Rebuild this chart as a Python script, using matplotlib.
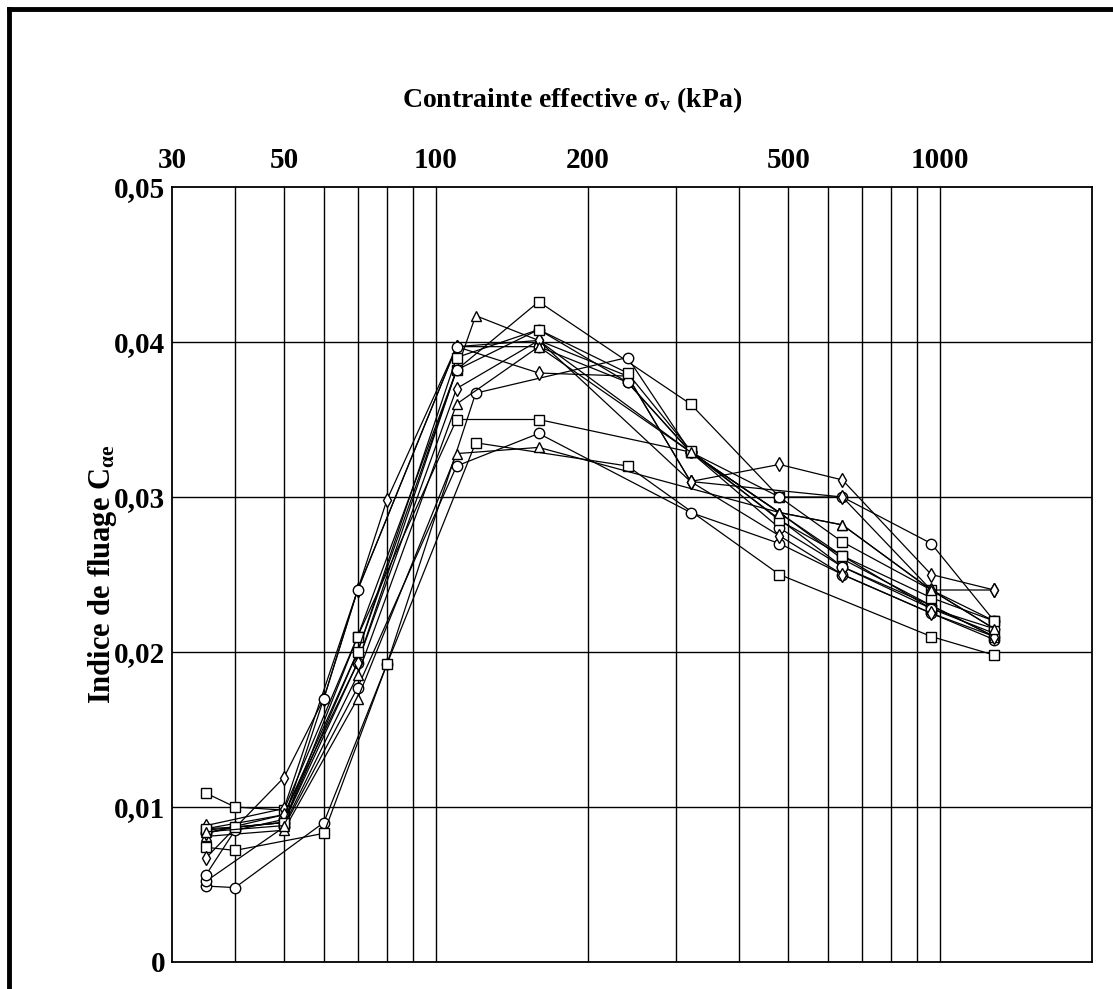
import matplotlib
matplotlib.use("Agg")
import matplotlib.pyplot as plt
from matplotlib.lines import Line2D
from matplotlib.ticker import FixedLocator, NullLocator

plt.rcParams["font.family"] = ["Liberation Serif", "DejaVu Serif"]
plt.rcParams["font.weight"] = "bold"
plt.rcParams["mathtext.fontset"] = "custom"
plt.rcParams["mathtext.rm"] = "Liberation Serif:bold"
plt.rcParams["mathtext.it"] = "Liberation Serif:bold"
plt.rcParams["mathtext.bf"] = "Liberation Serif:bold"

# stress (kPa) and creep index for each test
s1_x = [35, 40, 50, 70, 110, 160, 320, 480, 640, 960, 1280]
s1_y = [0.0109, 0.0100, 0.0098, 0.0210, 0.0382, 0.0426, 0.0360, 0.0300, 0.0271, 0.0240, 0.0220]
s2_x = [35, 40, 60, 80, 120, 240, 320, 480, 640, 960, 1280]
s2_y = [0.0049, 0.0048, 0.0090, 0.0192, 0.0367, 0.0390, 0.0329, 0.0300, 0.0300, 0.0270, 0.0220]
s3_x = [35, 40, 60, 80, 120, 240, 480, 960, 1280]
s3_y = [0.0074, 0.0072, 0.0083, 0.0192, 0.0335, 0.0320, 0.0250, 0.0210, 0.0198]
s4_x = [35, 50, 60, 70, 110, 160, 240, 320, 480, 640, 960, 1280]
s4_y = [0.0067, 0.0119, 0.0170, 0.0240, 0.0397, 0.0380, 0.0378, 0.0310, 0.0321, 0.0311, 0.0250, 0.0240]
s5_x = [35, 50, 70, 120, 160, 320, 480, 640, 960, 1280]
s5_y = [0.0086, 0.0095, 0.0200, 0.0417, 0.0401, 0.0329, 0.0290, 0.0282, 0.0240, 0.0215]
s6_x = [35, 40, 50, 70, 110, 160, 240, 320, 480, 640, 960, 1280]
s6_y = [0.0083, 0.0087, 0.0090, 0.0193, 0.0382, 0.0408, 0.0374, 0.0329, 0.0280, 0.0255, 0.0230, 0.0210]
s7_x = [35, 50, 70, 80, 110, 160, 240, 320, 640, 960, 1280]
s7_y = [0.0088, 0.0099, 0.0240, 0.0298, 0.0397, 0.0401, 0.0378, 0.0310, 0.0300, 0.0240, 0.0240]
s8_x = [35, 50, 70, 110, 160, 320, 480, 640, 960, 1280]
s8_y = [0.0052, 0.0087, 0.0177, 0.0320, 0.0341, 0.0290, 0.0270, 0.0250, 0.0225, 0.0208]
s9_x = [35, 50, 70, 110, 160, 480, 640, 960, 1280]
s9_y = [0.0081, 0.0085, 0.0170, 0.0328, 0.0332, 0.0290, 0.0260, 0.0230, 0.0210]
s10_x = [35, 50, 70, 110, 160, 320, 640, 960, 1280]
s10_y = [0.0085, 0.0090, 0.0210, 0.0350, 0.0350, 0.0329, 0.0262, 0.0228, 0.0212]
s11_x = [35, 40, 50, 60, 70, 110, 160, 240, 320, 640, 960, 1280]
s11_y = [0.0056, 0.0085, 0.0092, 0.0170, 0.0240, 0.0397, 0.0397, 0.0374, 0.0329, 0.0255, 0.0228, 0.0215]
s12_x = [35, 50, 70, 110, 160, 320, 480, 640, 960, 1280]
s12_y = [0.0083, 0.0095, 0.0193, 0.0370, 0.0401, 0.0310, 0.0275, 0.0250, 0.0225, 0.0210]
s13_x = [35, 40, 50, 70, 110, 160, 240, 320, 480, 640, 960, 1280]
s13_y = [0.0086, 0.0087, 0.0090, 0.0200, 0.0390, 0.0408, 0.0380, 0.0330, 0.0285, 0.0262, 0.0235, 0.0220]
s14_x = [35, 50, 70, 110, 160, 320, 480, 640, 960, 1280]
s14_y = [0.0084, 0.0088, 0.0185, 0.0360, 0.0397, 0.0329, 0.0290, 0.0282, 0.0240, 0.0215]

series = [
    (s1_x, s1_y, "s"), (s2_x, s2_y, "o"), (s3_x, s3_y, "s"), (s4_x, s4_y, "d"),
    (s5_x, s5_y, "^"), (s6_x, s6_y, "o"), (s7_x, s7_y, "d"), (s8_x, s8_y, "o"),
    (s9_x, s9_y, "^"), (s10_x, s10_y, "s"), (s11_x, s11_y, "o"), (s12_x, s12_y, "d"),
    (s13_x, s13_y, "s"), (s14_x, s14_y, "^"),
]

x_ticks = [30, 50, 100, 200, 500, 1000]
x_grid = [40, 50, 60, 70, 80, 90, 100, 200, 300, 400, 500, 600, 700, 800, 900, 1000]
y_ticks = [0, 0.01, 0.02, 0.03, 0.04, 0.05]
y_labels = ["0", "0,01", "0,02", "0,03", "0,04", "0,05"]

fig = plt.figure(figsize=(11.13, 9.89), dpi=100)
ax = fig.add_axes([172 / 1113, 1 - 962 / 989, 920 / 1113, 775 / 989])

for xs, ys, m in series:
    ax.plot(xs, ys, color="black", lw=0.9, marker=m, markersize=7.5,
            markerfacecolor="white", markeredgecolor="black", markeredgewidth=1.0)

ax.set_xscale("log")
ax.set_xlim(30, 2000)
ax.set_ylim(0, 0.05)

for gx in x_grid:
    ax.axvline(gx, color="black", lw=1.0, zorder=0)
for gy in y_ticks[1:-1]:
    ax.axhline(gy, color="black", lw=1.0, zorder=0)

ax.xaxis.set_major_locator(FixedLocator(x_ticks))
ax.xaxis.set_minor_locator(NullLocator())
ax.set_xticklabels([str(v) for v in x_ticks])
ax.xaxis.tick_top()
ax.set_yticks(y_ticks)
ax.set_yticklabels(y_labels)
ax.tick_params(axis="both", length=0, labelsize=21)
ax.tick_params(axis="x", pad=9)
ax.tick_params(axis="y", pad=5)
for sp in ax.spines.values():
    sp.set_linewidth(1.3)

fig.text(572 / 1113, 1 - 100 / 989, r"Contrainte effective $\mathrm{\sigma_v}$ (kPa)",
         ha="center", va="center", fontsize=20, fontweight="bold")
ax.set_ylabel(r"Indice de fluage $\mathrm{C_{\alpha e}}$", fontsize=22,
              fontweight="bold")
ax.yaxis.set_label_coords(-0.058, 0.5)

# scan frame on the left and top edges
fig.add_artist(Line2D([9 / 1113, 9 / 1113], [0, 1 - 9 / 989], color="black",
                      lw=3.5, transform=fig.transFigure))
fig.add_artist(Line2D([9 / 1113, 1], [1 - 9 / 989, 1 - 9 / 989], color="black",
                      lw=3.5, transform=fig.transFigure))

fig.savefig("out.png", dpi=100)
